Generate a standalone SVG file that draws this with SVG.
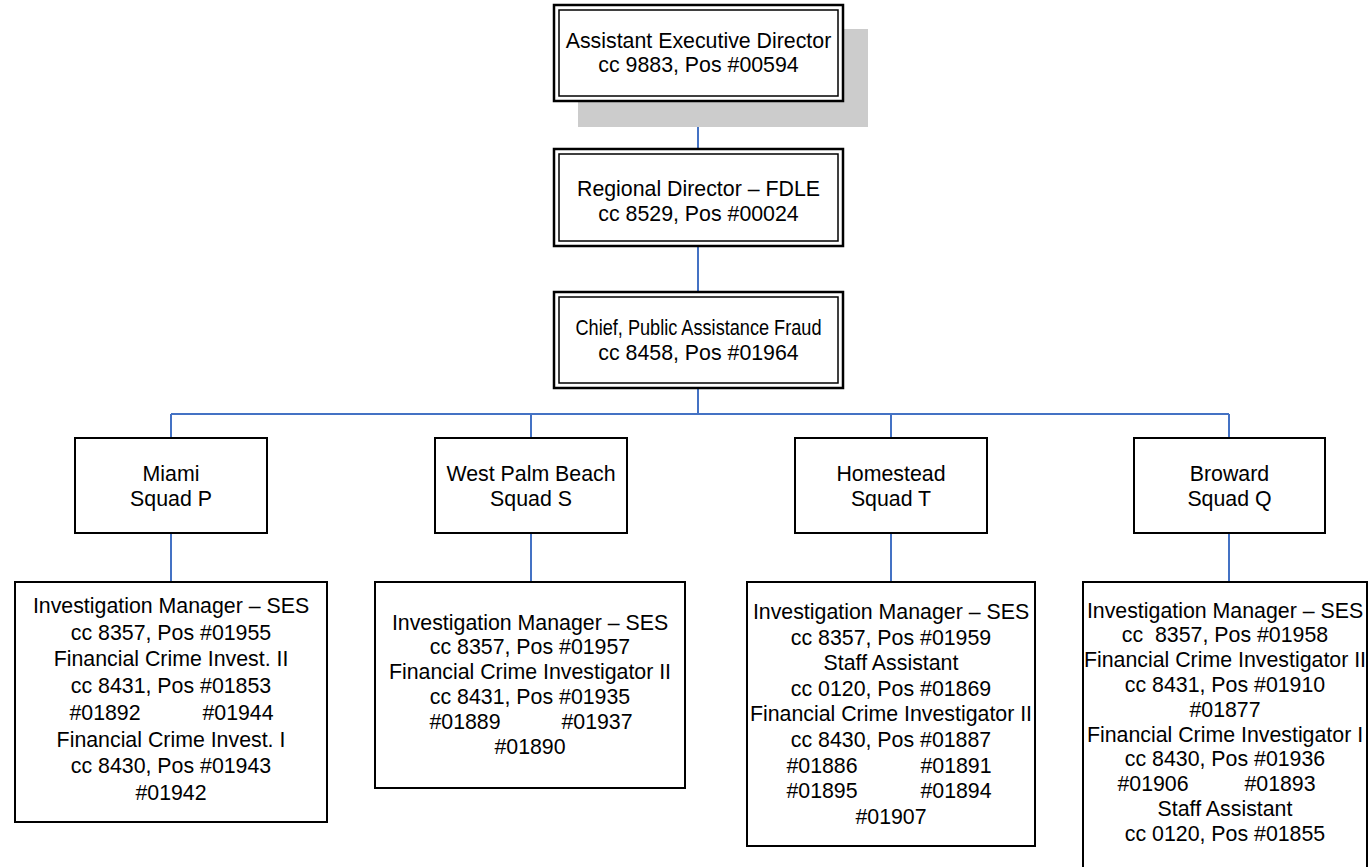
<svg xmlns="http://www.w3.org/2000/svg" width="1371" height="867" viewBox="0 0 1371 867">
<style>
text{font-family:"Liberation Sans",Arial,sans-serif;font-size:21.33px;fill:#000;text-anchor:middle}
.outer{fill:#fff;stroke:#000;stroke-width:2.5}
.inner{fill:none;stroke:#000;stroke-width:1.5}
.box{fill:#fff;stroke:#000;stroke-width:2}
.shadow{fill:#cccccc}
.conn{stroke:#4472C4;stroke-width:2;fill:none}
</style>
<rect width="1371" height="867" fill="#fff"/>
<g id="connectors">
<line class="conn" x1="698" y1="101" x2="698" y2="149"/>
<line class="conn" x1="698" y1="246" x2="698" y2="292"/>
<line class="conn" x1="698" y1="388" x2="698" y2="414"/>
<line class="conn" x1="171" y1="414" x2="1229" y2="414"/>
<line class="conn" x1="171" y1="414" x2="171" y2="438"/>
<line class="conn" x1="531" y1="414" x2="531" y2="438"/>
<line class="conn" x1="891" y1="414" x2="891" y2="438"/>
<line class="conn" x1="1229" y1="414" x2="1229" y2="438"/>
<line class="conn" x1="171" y1="533" x2="171" y2="582"/>
<line class="conn" x1="531" y1="533" x2="531" y2="582"/>
<line class="conn" x1="891" y1="533" x2="891" y2="582"/>
<line class="conn" x1="1229" y1="533" x2="1229" y2="582"/>
</g>
<g id="aed">
<rect class="shadow" x="578" y="29" width="290" height="98"/>
<rect class="outer" x="554" y="5" width="289" height="96"/>
<rect class="inner" x="559" y="10" width="279" height="86"/>
<text x="698.5" y="47.5">Assistant Executive Director</text>
<text x="698.5" y="72">cc 9883, Pos #00594</text>
</g>
<g id="regional">
<rect class="outer" x="554" y="149" width="289" height="97"/>
<rect class="inner" x="559" y="154" width="279" height="87"/>
<text x="698.5" y="195.5">Regional Director – FDLE</text>
<text x="698.5" y="220.5">cc 8529, Pos #00024</text>
</g>
<g id="chief">
<rect class="outer" x="554" y="292" width="289" height="96"/>
<rect class="inner" x="559" y="297" width="279" height="86"/>
<text x="698.5" y="334.5" textLength="246" lengthAdjust="spacingAndGlyphs">Chief, Public Assistance Fraud</text>
<text x="698.5" y="360">cc 8458, Pos #01964</text>
</g>
<g id="miami">
<rect class="box" x="75" y="438" width="192" height="95"/>
<text x="171" y="481">Miami</text>
<text x="171" y="505.5">Squad P</text>
</g>
<g id="wpb">
<rect class="box" x="435" y="438" width="192" height="95"/>
<text x="531" y="481">West Palm Beach</text>
<text x="531" y="505.5">Squad S</text>
</g>
<g id="homestead">
<rect class="box" x="795" y="438" width="192" height="95"/>
<text x="891" y="481">Homestead</text>
<text x="891" y="505.5">Squad T</text>
</g>
<g id="broward">
<rect class="box" x="1134" y="438" width="191" height="95"/>
<text x="1229.5" y="481">Broward</text>
<text x="1229.5" y="505.5">Squad Q</text>
</g>
<g id="miami-staff">
<rect class="box" x="15" y="582" width="312" height="240"/>
<text x="171" y="613">Investigation Manager – SES</text>
<text x="171" y="639.7">cc 8357, Pos #01955</text>
<text x="171" y="666.4">Financial Crime Invest. II</text>
<text x="171" y="693.1">cc 8431, Pos #01853</text>
<text y="719.8"><tspan x="105">#01892</tspan><tspan x="238">#01944</tspan></text>
<text x="171" y="746.5">Financial Crime Invest. I</text>
<text x="171" y="773.2">cc 8430, Pos #01943</text>
<text x="171" y="799.9">#01942</text>
</g>
<g id="wpb-staff">
<rect class="box" x="375" y="582" width="310" height="206"/>
<text x="530" y="629.5">Investigation Manager – SES</text>
<text x="530" y="654.3">cc 8357, Pos #01957</text>
<text x="530" y="679.1">Financial Crime Investigator II</text>
<text x="530" y="703.9">cc 8431, Pos #01935</text>
<text y="728.7"><tspan x="465">#01889</tspan><tspan x="597">#01937</tspan></text>
<text x="530" y="753.5">#01890</text>
</g>
<g id="homestead-staff">
<rect class="box" x="747" y="582" width="288" height="264"/>
<text x="891" y="619">Investigation Manager – SES</text>
<text x="891" y="644.6">cc 8357, Pos #01959</text>
<text x="891" y="670.2">Staff Assistant</text>
<text x="891" y="695.8">cc 0120, Pos #01869</text>
<text x="891" y="721.4">Financial Crime Investigator II</text>
<text x="891" y="747">cc 8430, Pos #01887</text>
<text y="772.6"><tspan x="822">#01886</tspan><tspan x="956">#01891</tspan></text>
<text y="798.2"><tspan x="822">#01895</tspan><tspan x="956">#01894</tspan></text>
<text x="891" y="823.8">#01907</text>
</g>
<g id="broward-staff">
<rect class="box" x="1083" y="582" width="284" height="300"/>
<text x="1225" y="617.5">Investigation Manager – SES</text>
<text x="1225" y="642.3" style="white-space:pre">cc  8357, Pos #01958</text>
<text x="1225" y="667.1">Financial Crime Investigator II</text>
<text x="1225" y="691.9">cc 8431, Pos #01910</text>
<text x="1225" y="716.7">#01877</text>
<text x="1225" y="741.5">Financial Crime Investigator I</text>
<text x="1225" y="766.3">cc 8430, Pos #01936</text>
<text y="791.1"><tspan x="1153">#01906</tspan><tspan x="1280">#01893</tspan></text>
<text x="1225" y="815.9">Staff Assistant</text>
<text x="1225" y="840.7">cc 0120, Pos #01855</text>
</g>
</svg>
